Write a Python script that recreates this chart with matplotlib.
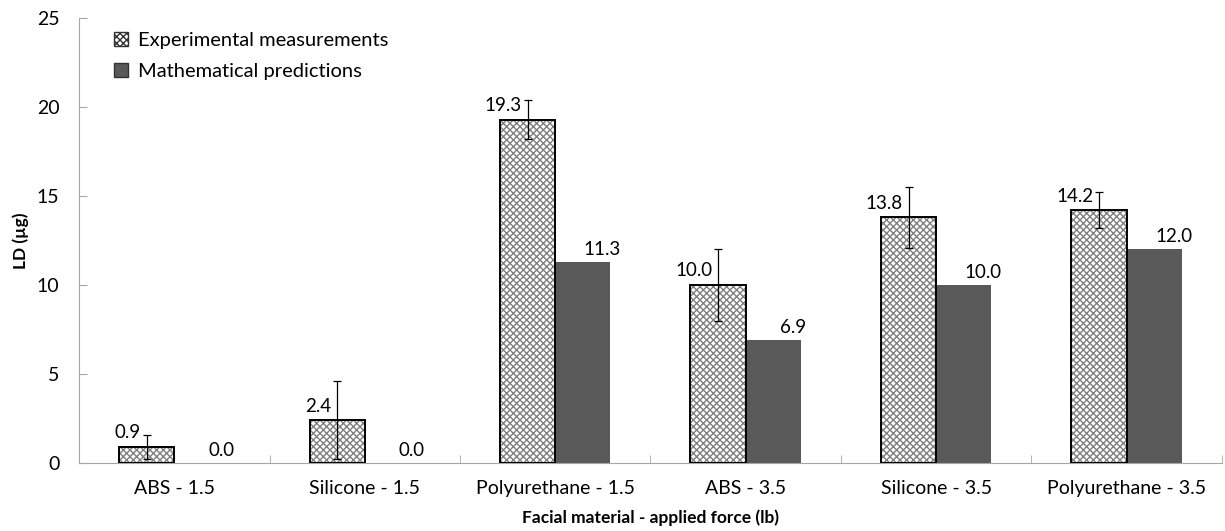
import matplotlib.pyplot as plt
import numpy as np
from matplotlib.patches import Patch

plt.rcParams['font.family'] = ['Lato', 'DejaVu Sans']

categories = ["ABS - 1.5", "Silicone - 1.5", "Polyurethane - 1.5",
              "ABS - 3.5", "Silicone - 3.5", "Polyurethane - 3.5"]
measured = [0.9, 2.4, 19.3, 10.0, 13.8, 14.2]
measured_err = [0.7, 2.2, 1.1, 2.0, 1.7, 1.0]
predicted = [0.0, 0.0, 11.3, 6.9, 10.0, 12.0]

BAR_WIDTH = 0.29
x = np.arange(len(categories))

fig = plt.figure(figsize=(12.25, 5.31), dpi=100)
ax = fig.add_axes([0.0645, 0.128, 0.933, 0.838])

# hatched fill in gray, with a separate black outline on top
ax.bar(x - BAR_WIDTH / 2, measured, width=BAR_WIDTH, color='white',
       edgecolor='#7f7f7f', hatch='xxxxx', linewidth=0, zorder=2)
ax.bar(x - BAR_WIDTH / 2, measured, width=BAR_WIDTH, fill=False,
       edgecolor='black', linewidth=1.4, zorder=3)
ax.errorbar(x - BAR_WIDTH / 2, measured, yerr=measured_err, fmt='none',
            ecolor='black', elinewidth=0.9, capsize=3, capthick=0.9, zorder=4)
ax.bar(x + BAR_WIDTH / 2, predicted, width=BAR_WIDTH, color='#595959',
       linewidth=0, zorder=2)

for xi, v in zip(x, measured):
    ax.annotate(f"{v:.1f}", (xi - BAR_WIDTH / 2, v), xytext=(-4, 4),
                textcoords='offset points', ha='right', va='bottom', fontsize=13.5)
for xi, v in zip(x, predicted):
    ax.annotate(f"{v:.1f}", (xi + BAR_WIDTH / 2, v), xytext=(14, 3),
                textcoords='offset points', ha='center', va='bottom', fontsize=13.5)

# legend handles
h1 = Patch(facecolor='white', edgecolor='#333333', hatch='xxxxx', linewidth=1)
h2 = Patch(facecolor='#595959', edgecolor='#333333', linewidth=1)
ax.legend([h1, h2], ["Experimental measurements", "Mathematical predictions"],
          loc='upper left', bbox_to_anchor=(0.015, 1.01), frameon=False,
          fontsize=14.5, handlelength=0.7, handleheight=0.7, handletextpad=0.5,
          labelspacing=0.7)

ax.set_xlim(-0.5, len(categories) - 0.5)
ax.set_ylim(0, 25)
ax.set_yticks(np.arange(0, 26, 5))
ax.set_xticks(x)
ax.set_xticklabels(categories)
ax.set_xticks(np.arange(-0.5, len(categories)), minor=True)
ax.tick_params(axis='x', which='major', length=0, pad=12, labelsize=14)
ax.tick_params(axis='x', which='minor', direction='in', length=6, color='#a6a6a6')
ax.tick_params(axis='y', direction='in', length=6, color='#a6a6a6', labelsize=14, pad=14)

for side in ('top', 'right'):
    ax.spines[side].set_visible(False)
for side in ('left', 'bottom'):
    ax.spines[side].set_color('#a6a6a6')

ax.set_ylabel("LD (µg)", fontsize=12.5, fontweight='bold', labelpad=6)
ax.set_xlabel("Facial material - applied force (lb)", fontsize=12.5,
              fontweight='bold', labelpad=9)

fig.savefig("out.png", dpi=100)
